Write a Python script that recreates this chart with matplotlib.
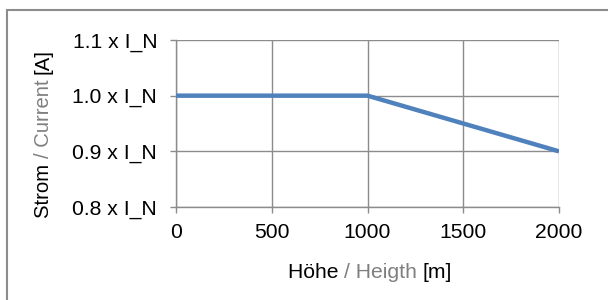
import matplotlib.pyplot as plt
from matplotlib.patches import Rectangle

plt.rcParams['font.family'] = ['Liberation Sans', 'DejaVu Sans']

hoehe = [0, 1000, 2000]
strom = [1.0, 1.0, 0.9]
yticks = [0.8, 0.9, 1.0, 1.1]
ytick_labels = ['0.8 x I_N', '0.9 x I_N', '1.0 x I_N', '1.1 x I_N']
xticks = [0, 500, 1000, 1500, 2000]

W, H = 608, 300
FS = 15.2
fig = plt.figure(figsize=(W / 100, H / 100), dpi=100)

# outer frame (right/bottom edges fall outside the image)
fig.patches.append(Rectangle((6.5 / W, -0.1), 1.2, (H - 10) / H + 0.1,
                             transform=fig.transFigure, fill=False,
                             edgecolor='#8c8c8c', linewidth=1.5))

ax = fig.add_axes([176 / W, 1 - 207 / H, (559 - 176) / W, (207 - 40) / H])
ax.plot(hoehe, strom, color='#4f81bd', linewidth=3.2, solid_capstyle='butt',
        zorder=3)
ax.set_xlim(0, 2000)
ax.set_ylim(0.8, 1.1)
ax.set_xticks(xticks)
ax.set_yticks(yticks)
ax.set_yticklabels(ytick_labels)
ax.grid(True, color='#8c8c8c', linewidth=1)
for s in ['top', 'right']:
    ax.spines[s].set_visible(False)
for s in ['left', 'bottom']:
    ax.spines[s].set_color('#8c8c8c')
    ax.spines[s].set_linewidth(1)
ax.tick_params(axis='both', colors='#8c8c8c', labelcolor='black',
               labelsize=FS, length=4.5, width=1)
ax.tick_params(axis='y', pad=9)
ax.tick_params(axis='x', pad=7)

# two-colour axis titles
def multicolor(parts, x, y, rotation=0, fs=FS):
    fig.canvas.draw()
    r = fig.canvas.get_renderer()
    texts = []
    total = 0
    for s, c in parts:
        t = fig.text(0, 0, s, color=c, fontsize=fs, ha='left', va='baseline')
        size = t.get_window_extent(r).width
        texts.append((t, size))
        total += size
    pos = (x if rotation == 0 else y) - total / 2
    for t, size in texts:
        if rotation == 0:
            t.set_position((pos / W, y / H))
        else:
            t.set_rotation(90)
            t.set_rotation_mode('anchor')
            t.set_position((x / W, pos / H))
        pos += size

multicolor([('Höhe ', 'black'), ('/ Heigth ', '#7f7f7f'), ('[m]', 'black')],
           370, H - 278)
multicolor([('Strom ', 'black'), ('/ Current ', '#7f7f7f'), ('[A]', 'black')],
           49, H - 133, rotation=90, fs=14.6)

fig.savefig('out.png', dpi=100)
